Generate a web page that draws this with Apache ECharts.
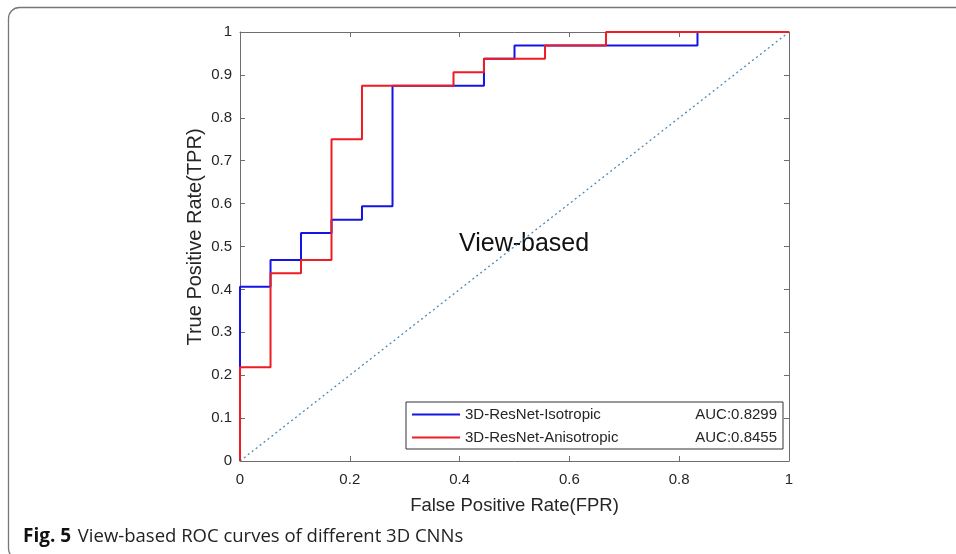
<!DOCTYPE html>
<html>
<head>
<meta charset="utf-8">
<script src="https://cdn.jsdelivr.net/npm/echarts@6/dist/echarts.min.js"></script>
<style>
  html, body { margin: 0; padding: 0; background: #fff; }
  #main { width: 956px; height: 554px; }
</style>
</head>
<body>
<div id="main"></div>
<script>
// ROC vertices (FPR, TPR)
const isoFpr = [0, 0, 0.0556, 0.0556, 0.1111, 0.1111, 0.1667, 0.1667, 0.2222, 0.2222, 0.2778, 0.2778, 0.4444, 0.4444, 0.5, 0.5, 0.8333, 0.8333, 1]
const isoTpr = [0, 0.40625, 0.40625, 0.46875, 0.46875, 0.53125, 0.53125, 0.5625, 0.5625, 0.59375, 0.59375, 0.875, 0.875, 0.9375, 0.9375, 0.96875, 0.96875, 1, 1]
const anisoFpr = [0, 0, 0.0556, 0.0556, 0.1111, 0.1111, 0.1667, 0.1667, 0.2222, 0.2222, 0.3889, 0.3889, 0.4444, 0.4444, 0.5556, 0.5556, 0.6667, 0.6667, 1]
const anisoTpr = [0, 0.21875, 0.21875, 0.4375, 0.4375, 0.46875, 0.46875, 0.75, 0.75, 0.875, 0.875, 0.90625, 0.90625, 0.9375, 0.9375, 0.96875, 0.96875, 1, 1]
const chanceFpr = [0, 1]
const chanceTpr = [0, 1]
const seriesNames = ['3D-ResNet-Isotropic', '3D-ResNet-Anisotropic']
const aucValues = ['0.8299', '0.8455']

const pairs = (xs, ys) => xs.map((x, i) => [x, ys[i]])
const axisColor = '#6e6e6e'
const textColor = '#262626'
const font = '"Liberation Sans", Arial, sans-serif'

const myChart = echarts.init(document.getElementById('main'))

// 边框坐标轴（上/右只画刻度）
const boxAxis = (pos, interval, show) => ({
  type: 'value',
  position: pos,
  min: 0,
  max: 1,
  interval: interval,
  axisLine: { show: true, onZero: false, lineStyle: { color: axisColor, width: 1 } },
  axisTick: { show: true, inside: true, length: 5, lineStyle: { color: axisColor } },
  axisLabel: { show: show },
  splitLine: { show: false }
})

const xMain = Object.assign(boxAxis('bottom', 0.2, true), {
  name: 'False Positive Rate(FPR)',
  nameLocation: 'middle',
  nameGap: 35,
  nameTextStyle: { color: textColor, fontFamily: font, fontSize: 18.5 },
  axisLabel: { show: true, color: textColor, fontFamily: font, fontSize: 15, margin: 11 }
})
const yMain = Object.assign(boxAxis('left', 0.1, true), {
  axisLabel: { show: true, color: textColor, fontFamily: font, fontSize: 15, margin: 8 }
})

let option = {
  animation: false,
  backgroundColor: '#fff',
  grid: { left: 240, right: 167, top: 32, bottom: 93 },
  xAxis: [xMain, boxAxis('top', 0.2, false)],
  yAxis: [yMain, boxAxis('right', 0.1, false)],
  legend: {
    orient: 'vertical',
    left: 406,
    top: 402,
    width: 378,
    padding: [5, 6, 4, 6],
    itemGap: 8,
    itemWidth: 48,
    itemHeight: 14,
    icon: 'path://M0,6 L48,6 L48,8 L0,8 Z',
    backgroundColor: '#fff',
    borderColor: '#333',
    borderWidth: 1,
    data: seriesNames,
    formatter: (name) => {
      const auc = aucValues[seriesNames.indexOf(name)]
      return '{n|' + name + '}{a|AUC:' + auc + '}'
    },
    textStyle: {
      color: textColor,
      fontFamily: font,
      fontSize: 15,
      rich: {
        n: { width: 232, fontFamily: font, fontSize: 15, color: textColor },
        a: { width: 80, align: 'right', fontFamily: font, fontSize: 15, color: textColor }
      }
    }
  },
  graphic: [
    {
      type: 'rect',
      shape: { x: 8.5, y: 7.5, width: 1000, height: 552, r: 11 },
      style: { fill: 'none', stroke: '#777', lineWidth: 1.3 },
      z: 0
    },
    {
      type: 'text',
      x: 195,
      y: 237,
      rotation: Math.PI / 2,
      style: {
        text: 'True Positive Rate(TPR)',
        fill: textColor,
        font: '20px ' + font,
        align: 'center',
        verticalAlign: 'middle'
      }
    },
    {
      type: 'text',
      left: 459,
      top: 232,
      style: { text: 'View-based', fill: '#111', font: '25px ' + font }
    },
    {
      type: 'text',
      left: 23,
      top: 527,
      style: {
        text: '{b|Fig. 5}  {t|View-based ROC curves of different 3D CNNs}',
        rich: {
          b: { fontFamily: '"Open Sans", sans-serif', fontWeight: 'bold', fontSize: 19, fill: '#111' },
          t: { fontFamily: '"Open Sans", sans-serif', fontSize: 18.5, fill: '#222' }
        }
      }
    }
  ],
  series: [
    {
      name: 'chance',
      type: 'line',
      symbol: 'none',
      silent: true,
      data: pairs(chanceFpr, chanceTpr),
      lineStyle: { color: '#4f89b5', width: 1.3, type: [2, 3] }
    },
    {
      name: seriesNames[0],
      type: 'line',
      symbol: 'none',
      data: pairs(isoFpr, isoTpr),
      itemStyle: { color: '#1414e6' },
      lineStyle: { color: '#1414e6', width: 2 }
    },
    {
      name: seriesNames[1],
      type: 'line',
      symbol: 'none',
      data: pairs(anisoFpr, anisoTpr),
      itemStyle: { color: '#ee1d23' },
      lineStyle: { color: '#ee1d23', width: 2 }
    }
  ]
}

myChart.setOption(option, true)
</script>
</body>
</html>
